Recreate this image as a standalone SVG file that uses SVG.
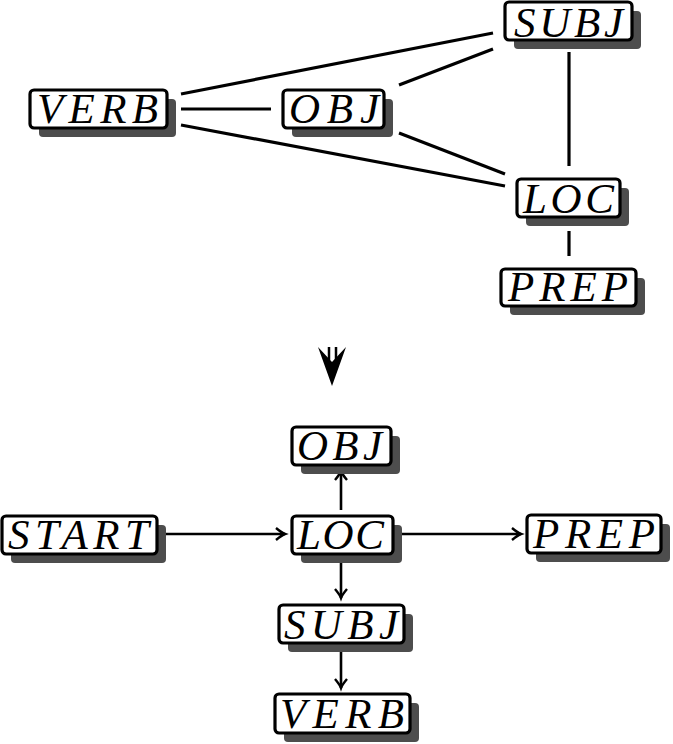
<svg xmlns="http://www.w3.org/2000/svg" width="673" height="744" viewBox="0 0 673 744">
<style>
.sh{fill:#4d4d4d}
.bx{fill:#fff;stroke:#000;stroke-width:3.2}
.t{font-family:"Liberation Serif","DejaVu Serif",serif;font-style:italic;font-size:43px;fill:#000}
.e{stroke:#000;stroke-width:3.2;fill:none}
.a{stroke:#000;stroke-width:2.6;fill:none;marker-end:url(#ah)}
</style>
<defs>
<marker id="ah" markerUnits="userSpaceOnUse" markerWidth="16" markerHeight="16" viewBox="-10 -8 12 16" refX="0" refY="0" orient="auto" overflow="visible">
<path d="M-9,-6 Q-3,-1 0,0 Q-3,1 -9,6" fill="none" stroke="#000" stroke-width="2.4"/>
</marker>
</defs>
<rect width="673" height="744" fill="#fff"/>
<g id="connectors">
<line class="e" x1="181" y1="94" x2="493" y2="33"/>
<line class="e" x1="399" y1="85" x2="493" y2="49"/>
<line class="e" x1="181" y1="109" x2="271" y2="109"/>
<line class="e" x1="181" y1="125" x2="505" y2="186"/>
<line class="e" x1="399" y1="133" x2="505" y2="174"/>
<line class="e" x1="569" y1="52" x2="569" y2="166"/>
<line class="e" x1="569" y1="231" x2="569" y2="256"/>
<line class="a" x1="165" y1="534" x2="285" y2="534"/>
<line class="a" x1="399" y1="534" x2="521" y2="534"/>
<line class="a" x1="341" y1="510" x2="341" y2="471"/>
<line class="a" x1="341" y1="560" x2="341" y2="598"/>
<line class="a" x1="341" y1="648" x2="341" y2="688"/>
</g>
<g id="transform-arrow">
<line x1="329" y1="347" x2="329" y2="360" stroke="#000" stroke-width="2.5"/>
<line x1="336" y1="347" x2="336" y2="360" stroke="#000" stroke-width="2.5"/>
<path d="M318,347 L332,386 L346,347 L332,362 Z" fill="#000"/>
</g>
<g id="top-subj"><rect class="sh" x="514" y="11" width="127" height="38" rx="4"/><rect class="bx" x="505" y="2" width="127" height="38" rx="4"/><text class="t" x="514" y="37" font-size="41" textLength="109" lengthAdjust="spacing">SUBJ</text></g>
<g id="top-verb"><rect class="sh" x="39" y="99" width="137" height="38" rx="4"/><rect class="bx" x="30" y="90" width="137" height="38" rx="4"/><text class="t" x="37" y="123" textLength="121" lengthAdjust="spacing">VERB</text></g>
<g id="top-obj"><rect class="sh" x="292" y="99" width="101" height="38" rx="4"/><rect class="bx" x="283" y="90" width="101" height="38" rx="4"/><text class="t" x="289" y="123" textLength="90" lengthAdjust="spacing">OBJ</text></g>
<g id="top-loc"><rect class="sh" x="526" y="188" width="103" height="38" rx="4"/><rect class="bx" x="517" y="179" width="103" height="38" rx="4"/><text class="t" x="523" y="213" textLength="91" lengthAdjust="spacing">LOC</text></g>
<g id="top-prep"><rect class="sh" x="510" y="278" width="135" height="37" rx="4"/><rect class="bx" x="501" y="269" width="135" height="37" rx="4"/><text class="t" x="508" y="301" textLength="120" lengthAdjust="spacing">PREP</text></g>
<g id="bot-obj"><rect class="sh" x="301" y="436" width="99" height="38" rx="4"/><rect class="bx" x="292" y="427" width="99" height="38" rx="4"/><text class="t" x="297" y="460" textLength="85" lengthAdjust="spacing">OBJ</text></g>
<g id="bot-start"><rect class="sh" x="11" y="525" width="155" height="38" rx="4"/><rect class="bx" x="2" y="516" width="155" height="38" rx="4"/><text class="t" x="8" y="549" textLength="141" lengthAdjust="spacing">START</text></g>
<g id="bot-loc"><rect class="sh" x="301" y="525" width="101" height="38" rx="4"/><rect class="bx" x="292" y="516" width="101" height="38" rx="4"/><text class="t" x="297" y="549" textLength="87" lengthAdjust="spacing">LOC</text></g>
<g id="bot-prep"><rect class="sh" x="536" y="524" width="134" height="38" rx="4"/><rect class="bx" x="527" y="515" width="134" height="38" rx="4"/><text class="t" x="533" y="548" textLength="122" lengthAdjust="spacing">PREP</text></g>
<g id="bot-subj"><rect class="sh" x="288" y="614" width="125" height="38" rx="4"/><rect class="bx" x="279" y="605" width="125" height="38" rx="4"/><text class="t" x="284" y="639" textLength="114" lengthAdjust="spacing">SUBJ</text></g>
<g id="bot-verb"><rect class="sh" x="284" y="703" width="135" height="39" rx="4"/><rect class="bx" x="275" y="694" width="135" height="39" rx="4"/><text class="t" x="280" y="728" textLength="124" lengthAdjust="spacing">VERB</text></g>
</svg>
